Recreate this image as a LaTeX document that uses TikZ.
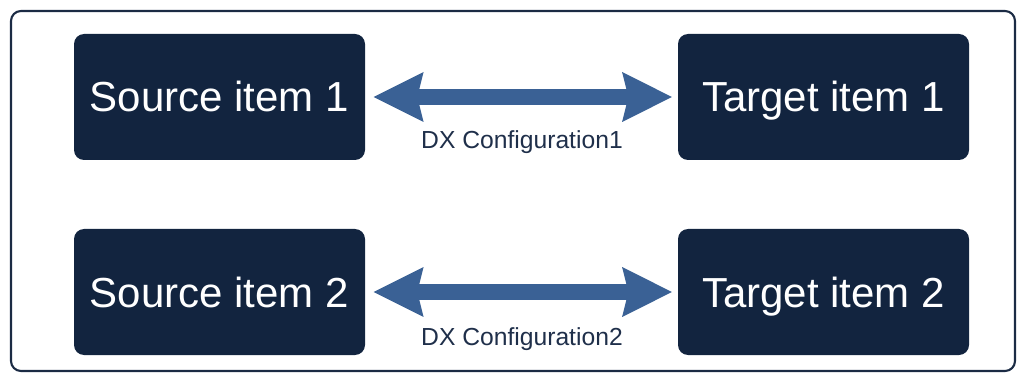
\documentclass[tikz,border=0pt]{standalone}
\usepackage{fontspec}
\setmainfont{Liberation Sans}
\usetikzlibrary{arrows.meta}
\definecolor{boxnavy}{HTML}{12243F}
\definecolor{framenavy}{HTML}{1B2B44}
\definecolor{arrowblue}{HTML}{3A6195}
\definecolor{labelnavy}{HTML}{1F2F4A}
\begin{document}
\begin{tikzpicture}[x=0.75pt,y=-0.75pt,
  itembox/.style={fill=boxnavy, rounded corners=7.5pt, minimum width=218.25pt, minimum height=94.5pt,
    inner sep=0pt, text=white, font=\fontsize{31.5}{36}\selectfont, text height=22.5pt, text depth=0pt},
  dxlabel/.style={inner sep=0pt, text=labelnavy, font=\fontsize{18.5}{22}\selectfont, text height=13.3pt, text depth=0pt},
  dxarrow/.style={draw=arrowblue, line width=12pt,
    {Stealth[length=36.75pt,width=35.25pt,inset=3.75pt,fill=arrowblue]}-{Stealth[length=36.75pt,width=35.25pt,inset=3.75pt,fill=arrowblue]},
    shorten <=6pt, shorten >=4pt},
  frame/.style={draw=framenavy, line width=1.6pt, rounded corners=7.5pt}]
\useasboundingbox (0,0) rectangle (1018,374);
\draw[frame] (11,11) rectangle (1015,371);
\node[itembox] (s1) at (219.5,97) {Source item 1};
\node[itembox] (t1) at (823.5,97) {Target item 1};
\node[itembox] (s2) at (219.5,292) {Source item 2};
\node[itembox] (t2) at (823.5,292) {Target item 2};
\draw[dxarrow] (s1.east) -- (t1.west);
\draw[dxarrow] (s2.east) -- (t2.west);
\node[dxlabel] (l1) at (522,140) {DX Configuration1};
\node[dxlabel] (l2) at (522,337) {DX Configuration2};
\end{tikzpicture}
\end{document}
